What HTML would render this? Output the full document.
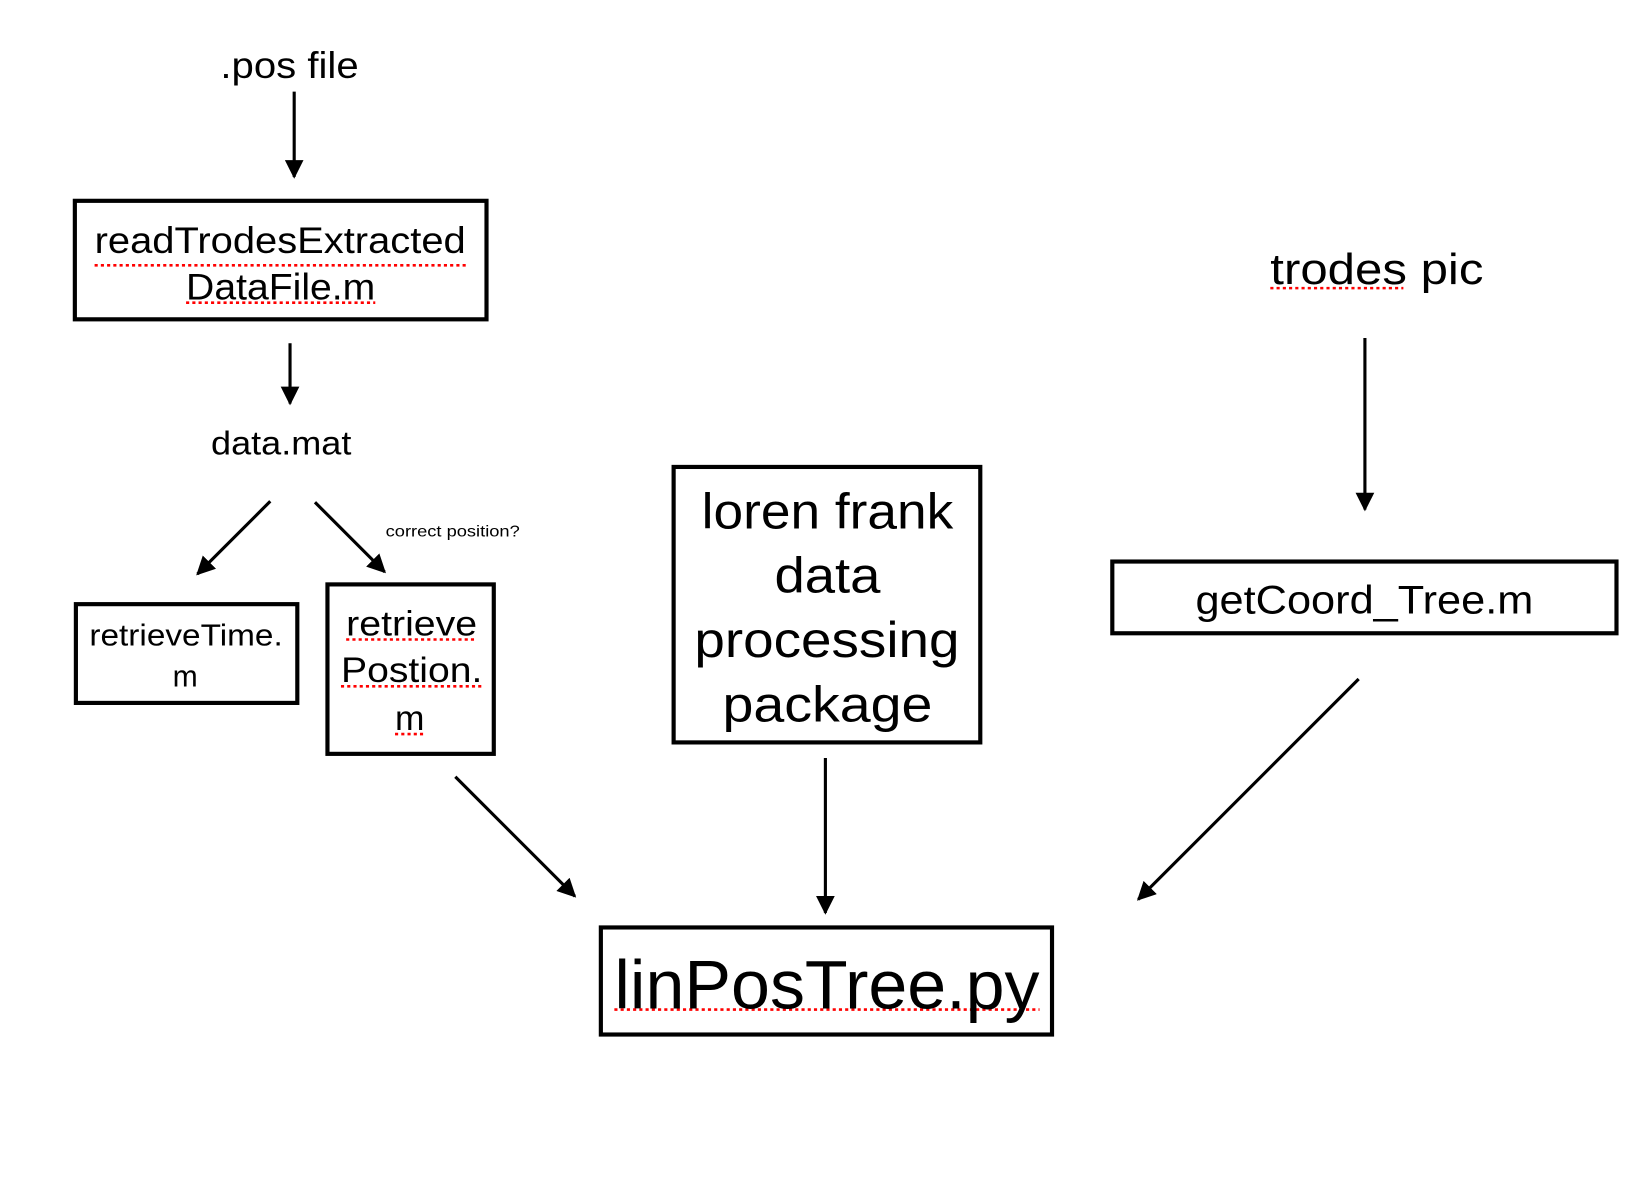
<!DOCTYPE html>
<html><head><meta charset="utf-8"><style>html,body{margin:0;padding:0;background:#fff}svg{display:block}</style></head>
<body>
<svg width="1630" height="1200" viewBox="0 0 1568 1154" xmlns="http://www.w3.org/2000/svg" font-family="Liberation Sans, sans-serif" fill="#000">
<defs>
<marker id="h" viewBox="0 0 10 10" refX="9" refY="5" markerWidth="18" markerHeight="18" markerUnits="userSpaceOnUse" orient="auto"><path d="M0,0 L10,5 L0,10 z" fill="#000"/></marker>
</defs>
<g stroke="#000" stroke-width="3" fill="none" marker-end="url(#h)">
<line x1="283" y1="88" x2="283" y2="170"/>
<line x1="279" y1="330" x2="279" y2="388"/>
<line x1="260" y1="482" x2="190" y2="552"/>
<line x1="303" y1="483" x2="370" y2="550"/>
<line x1="1313" y1="325" x2="1313" y2="490"/>
<line x1="438" y1="747" x2="553" y2="862"/>
<line x1="794" y1="729" x2="794" y2="878"/>
<line x1="1307" y1="653" x2="1095" y2="865"/>
</g>
<g stroke="#000" stroke-width="4" fill="none">
<rect x="72" y="193" width="396" height="114"/>
<rect x="73" y="581" width="213" height="95"/>
<rect x="315" y="562" width="160" height="163"/>
<rect x="648" y="449" width="295" height="265"/>
<rect x="1070" y="540" width="485" height="69"/>
<rect x="578" y="892" width="434" height="103"/>
</g>
<g stroke="#f00" stroke-width="2.5" stroke-dasharray="3,3" fill="none">
<line x1="91" y1="255" x2="448" y2="255"/>
<line x1="179" y1="291" x2="361" y2="291"/>
<line x1="333" y1="615" x2="459" y2="615"/>
<line x1="328" y1="660" x2="464" y2="660"/>
<line x1="380" y1="706" x2="410" y2="706"/>
<line x1="1222" y1="277" x2="1350" y2="277"/>
<line x1="591" y1="971" x2="1000" y2="971"/>
</g>
<g>
<text x="212" y="75" font-size="36" textLength="133" lengthAdjust="spacingAndGlyphs">.pos file</text>
<text x="91" y="243" font-size="36" textLength="357" lengthAdjust="spacingAndGlyphs">readTrodesExtracted</text>
<text x="179" y="288" font-size="36" textLength="182" lengthAdjust="spacingAndGlyphs">DataFile.m</text>
<text x="203" y="437" font-size="32" textLength="135" lengthAdjust="spacingAndGlyphs">data.mat</text>
<text x="371" y="516" font-size="15" textLength="129" lengthAdjust="spacingAndGlyphs">correct position?</text>
<text x="86" y="621" font-size="29" textLength="186" lengthAdjust="spacingAndGlyphs">retrieveTime.</text>
<text x="166" y="660" font-size="29">m</text>
<text x="333" y="611" font-size="34" textLength="126" lengthAdjust="spacingAndGlyphs">retrieve</text>
<text x="328" y="656" font-size="34" textLength="136" lengthAdjust="spacingAndGlyphs">Postion.</text>
<text x="380" y="702" font-size="34">m</text>
<text x="675" y="508" font-size="48" textLength="242" lengthAdjust="spacingAndGlyphs">loren frank</text>
<text x="745" y="570" font-size="48" textLength="102" lengthAdjust="spacingAndGlyphs">data</text>
<text x="668" y="632" font-size="48" textLength="255" lengthAdjust="spacingAndGlyphs">processing</text>
<text x="695" y="694" font-size="48" textLength="202" lengthAdjust="spacingAndGlyphs">package</text>
<text x="1222" y="273" font-size="42" textLength="205" lengthAdjust="spacingAndGlyphs">trodes pic</text>
<text x="1150" y="590" font-size="38" textLength="325" lengthAdjust="spacingAndGlyphs">getCoord_Tree.m</text>
<text x="591" y="970" font-size="66" textLength="409" lengthAdjust="spacingAndGlyphs">linPosTree.py</text>
</g>
</svg>
</body></html>
